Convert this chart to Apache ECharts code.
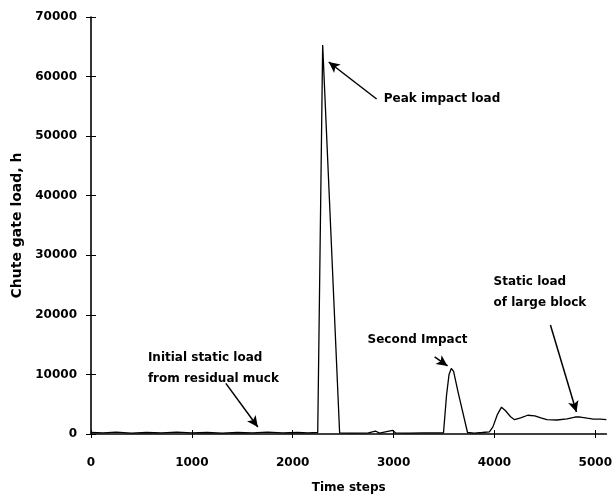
<!DOCTYPE html>
<html>
<head>
<meta charset="utf-8">
<script src="https://cdn.jsdelivr.net/npm/echarts@6/dist/echarts.min.js"></script>
<style>
  html, body { margin: 0; background: #fff; }
  #main { width: 615px; height: 500px; }
</style>
</head>
<body>
<div id="main"></div>
<script>
// time step / load pairs
var steps = [0, 120, 250, 400, 550, 700, 850, 1000, 1150, 1300, 1450, 1600, 1750, 1900, 2050, 2150,
  2248, 2297, 2465, 2600, 2750, 2820, 2860, 2990, 3020, 3150, 3300, 3495,
  3525, 3550, 3572, 3595, 3640, 3733, 3800, 3880, 3950, 3985, 4030, 4070, 4110, 4160, 4200,
  4260, 4330, 4400, 4460, 4520, 4620, 4720, 4800, 4850, 4920, 4980, 5050, 5110];
var load = [250, 200, 300, 150, 250, 200, 300, 200, 250, 150, 250, 200, 300, 200, 250, 200,
  250, 65300, 200, 150, 200, 500, 150, 600, 200, 150, 200, 200,
  6500, 10000, 11000, 10500, 7000, 250, 150, 250, 350, 1200, 3300, 4500, 3900, 2900, 2400,
  2700, 3150, 3050, 2700, 2400, 2350, 2550, 2850, 2850, 2650, 2500, 2500, 2400];

var xTicks = [0, 1000, 2000, 3000, 4000, 5000];
var yTicks = [0, 10000, 20000, 30000, 40000, 50000, 60000, 70000];

// annotation texts: [text, step, load, align]
var notes = [
  ['Peak impact load', 2902, 56240, 'left'],
  ['Second Impact', 3733, 15780, 'right'],
  ['Static load\nof large block', 3991, 23750, 'left'],
  ['Initial static load\nfrom residual muck', 564, 11000, 'left']
];
// arrows: [fromStep, fromLoad, toStep, toLoad]
var arrows = [
  [2832, 56240, 2357, 62450],
  [1337, 8500, 1654, 1175],
  [3407, 12930, 3535, 11420],
  [4555, 18300, 4813, 3690]
];

var font = 'DejaVu Sans';
var chart = echarts.init(document.getElementById('main'));

var xBase = { type: 'value', min: 0, max: 5110, interval: 1000, splitLine: { show: false } };
var yBase = { type: 'value', min: 0, max: 70000, interval: 10000, splitLine: { show: false } };

chart.setOption({
  animation: false,
  grid: { left: 91, right: 8, top: 17, bottom: 66 },
  xAxis: [
    Object.assign({}, xBase, {
      name: 'Time steps',
      nameLocation: 'middle',
      nameGap: 48,
      nameTextStyle: { fontFamily: font, fontWeight: 'bold', fontSize: 12, color: '#000' },
      axisLine: { lineStyle: { color: '#000', width: 1.6 } },
      axisTick: { length: 4, lineStyle: { color: '#000', width: 1 }, customValues: xTicks },
      axisLabel: {
        margin: 23, fontFamily: font, fontWeight: 'bold', fontSize: 12, color: '#000',
        customValues: xTicks, formatter: function (v) { return String(v); }
      }
    }),
    Object.assign({}, xBase, {
      position: 'bottom',
      axisLine: { show: false },
      axisTick: { inside: true, length: 4, lineStyle: { color: '#000', width: 1 }, customValues: xTicks },
      axisLabel: { show: false }
    })
  ],
  yAxis: [
    Object.assign({}, yBase, {
      name: 'Chute gate load, h',
      nameLocation: 'middle',
      nameGap: 66,
      nameTextStyle: { fontFamily: font, fontWeight: 'bold', fontSize: 14, color: '#000' },
      axisLine: { show: true, lineStyle: { color: '#000', width: 1.6 } },
      axisTick: { show: true, length: 5, lineStyle: { color: '#000', width: 1 }, customValues: yTicks },
      axisLabel: {
        margin: 14, fontFamily: font, fontWeight: 'bold', fontSize: 12, color: '#000',
        customValues: yTicks, formatter: function (v) { return String(v); }
      }
    }),
    Object.assign({}, yBase, {
      position: 'left',
      axisLine: { show: false },
      axisTick: { show: true, inside: true, length: 5, lineStyle: { color: '#000', width: 1 }, customValues: yTicks },
      axisLabel: { show: false }
    })
  ],
  series: [{
    type: 'line',
    data: steps.map(function (s, i) { return [s, load[i]]; }),
    showSymbol: false,
    silent: true,
    lineStyle: { color: '#000', width: 1.3 },
    markLine: {
      silent: true,
      symbol: ['none', 'arrow'],
      symbolSize: [8, 11],
      label: { show: false },
      lineStyle: { color: '#000', width: 1.5, type: 'solid' },
      data: arrows.map(function (a) {
        return [{ coord: [a[0], a[1]] }, { coord: [a[2], a[3]] }];
      })
    },
    markPoint: {
      silent: true,
      symbol: 'circle',
      symbolSize: 0,
      data: notes.map(function (n) {
        return {
          coord: [n[1], n[2]],
          label: {
            show: true,
            position: 'inside',
            align: n[3],
            verticalAlign: 'middle',
            formatter: n[0],
            fontFamily: font,
            fontWeight: 'bold',
            fontSize: 12,
            lineHeight: 21,
            color: '#000'
          }
        };
      })
    }
  }]
});
</script>
</body>
</html>
